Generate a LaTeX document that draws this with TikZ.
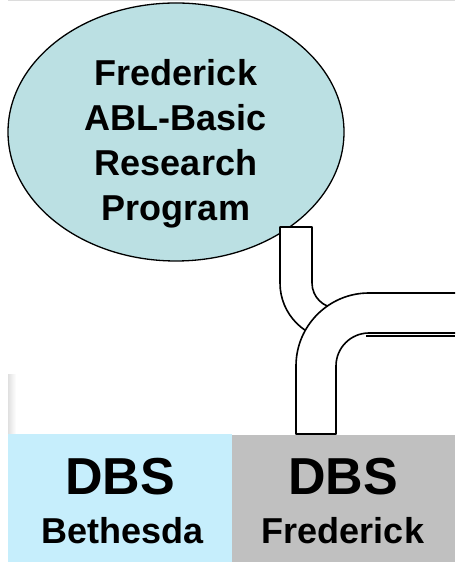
\documentclass[tikz,border=0pt]{standalone}
\usepackage{fontspec}
\setmainfont{Liberation Sans}
\usetikzlibrary{shapes.geometric}
\definecolor{ellfill}{HTML}{BBE0E3}
\definecolor{bethfill}{HTML}{C6EEFC}
\definecolor{fredfill}{HTML}{C0C0C0}
\definecolor{topline}{HTML}{DCDCDC}
\tikzset{
  pipeline/.style={line width=1.6pt, line join=round},
  boxtitle/.style={font=\fontsize{52}{52}\selectfont\bfseries, inner sep=0pt, anchor=base},
  boxsub/.style={font=\fontsize{36}{36}\selectfont\bfseries, inner sep=0pt, anchor=base},
}
\begin{document}
\begin{tikzpicture}[x=1pt,y=1pt]
\useasboundingbox (0,0) rectangle (455,562);
% top border line
\draw[topline, line width=1.5pt] (8,561.3) -- (455,561.3);
% faint left shadow
\shade[left color=black!12, right color=white] (8,128) rectangle (16,187);
% ellipse
\node[ellipse, draw, line width=1.3pt, fill=ellfill, minimum width=336pt, minimum height=258pt, inner sep=0pt] (prog) at (176,430) {};
\node[font=\fontsize{36}{45}\selectfont\bfseries, align=center, inner sep=0pt] (progtext) at (176,418) {Frederick\\ABL-Basic\\Research\\Program};
% boxes
\node[fill=bethfill, minimum width=224pt, minimum height=128pt, inner sep=0pt, anchor=south west] (beth) at (8,0) {};
\node[fill=fredfill, minimum width=223pt, minimum height=127pt, inner sep=0pt, anchor=south west] (fred) at (232,0) {};
\node[boxtitle] (bethtitle) at (120,67) {DBS};
\node[boxsub] (bethsub) at (123,19) {Bethesda};
\node[boxtitle] (fredtitle) at (343,67) {DBS};
\node[boxsub] (fredsub) at (343,19) {Frederick};
% small elbow pipe (drawn over the ellipse)
\filldraw[pipeline, fill=white] (280,335) -- (280,279) arc[start angle=180, end angle=270, radius=57]
  -- (337,254) arc[start angle=270, end angle=180, radius=25] -- (312,335) -- cycle;
% big elbow pipe
\fill[white] (296,128) -- (296,196) arc[start angle=180, end angle=90, radius=73]
  -- (455,269) -- (455,229) -- (369,229) arc[start angle=90, end angle=180, radius=33] -- (336,128) -- cycle;
\draw[pipeline] (455,269) -- (369,269) arc[start angle=90, end angle=180, radius=73]
  -- (296,128) -- (336,128) -- (336,196) arc[start angle=180, end angle=90, radius=33] -- (455,229);
\draw[line width=1.3pt] (366,226) -- (455,226);
\end{tikzpicture}
\end{document}
